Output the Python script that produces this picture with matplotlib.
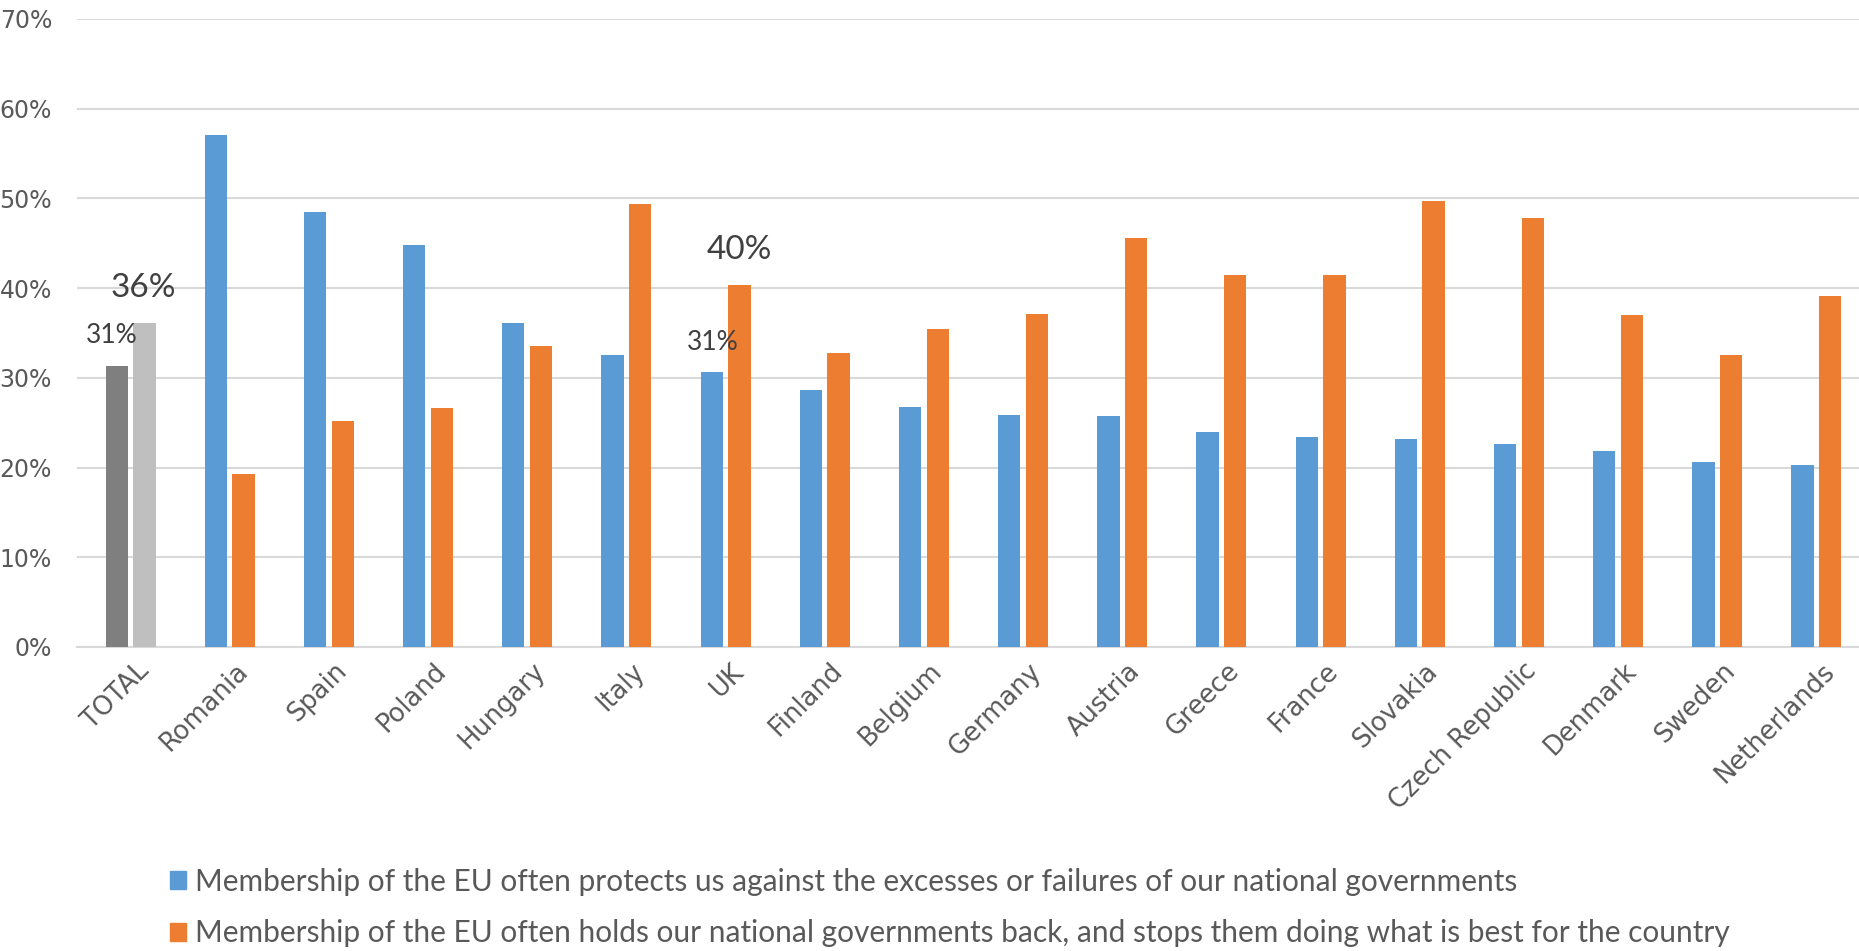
import matplotlib
matplotlib.use('Agg')
import matplotlib.pyplot as plt
import numpy as np
from matplotlib.patches import Patch

plt.rcParams['font.family'] = ['Lato', 'DejaVu Sans']

# 数据
countries = ['TOTAL', 'Romania', 'Spain', 'Poland', 'Hungary', 'Italy', 'UK', 'Finland',
             'Belgium', 'Germany', 'Austria', 'Greece', 'France', 'Slovakia',
             'Czech Republic', 'Denmark', 'Sweden', 'Netherlands']
protects = [31.3, 57.1, 48.5, 44.8, 36.1, 32.5, 30.6, 28.7, 26.7, 25.9, 25.8,
            24.0, 23.4, 23.2, 22.6, 21.8, 20.6, 20.3]
holds_back = [36.1, 19.3, 25.2, 26.6, 33.6, 49.4, 40.4, 32.8, 35.5, 37.1, 45.6,
              41.5, 41.5, 49.7, 47.8, 37.0, 32.5, 39.1]
legend_labels = ['Membership of the EU often protects us against the excesses or failures of our national governments',
                 'Membership of the EU often holds our national governments back, and stops them doing what is best for the country']

blue = '#5B9BD5'
orange = '#ED7D31'
c1 = [blue] * len(countries)
c2 = [orange] * len(countries)
c1[0] = '#7F7F7F'  # TOTAL 用灰色
c2[0] = '#BFBFBF'

W, H = 1859, 951
fig = plt.figure(figsize=(W / 100, H / 100), dpi=100)
ax = fig.add_axes([77 / W, 1 - 647 / H, (1866 - 77) / W, (647 - 19) / H])

x = np.arange(len(countries))
bw = 0.225
off = 0.14
ax.bar(x - off, np.array(protects) / 100, width=bw, color=c1, zorder=3)
ax.bar(x + off, np.array(holds_back) / 100, width=bw, color=c2, zorder=3)

ax.set_xlim(-0.54, 17.5)
ax.set_ylim(0, 0.7)
ax.set_yticks(np.arange(0, 0.71, 0.1))
ax.set_yticklabels([f'{int(round(v * 100))}%' for v in np.arange(0, 0.71, 0.1)],
                   fontsize=17, color='#595959', family='DejaVu Sans')
ax.yaxis.grid(True, color='#D9D9D9', linewidth=1.5, zorder=0)
ax.set_axisbelow(True)
for s in ['top', 'right', 'left']:
    ax.spines[s].set_visible(False)
ax.spines['bottom'].set_color('#D9D9D9')
ax.spines['bottom'].set_linewidth(1.5)
ax.tick_params(axis='both', length=0)
ax.tick_params(axis='y', pad=18)

ax.set_xticks(x + 0.05)
ax.set_xticklabels(countries, rotation=45, ha='right', rotation_mode='anchor',
                   fontsize=18.5, color='#595959', family='DejaVu Sans')
ax.tick_params(axis='x', pad=8)

# 数值标签
ax.text(-0.19, 0.347, '31%', ha='center', va='center', fontsize=19, color='#404040')
ax.text(0.13, 0.400, '36%', ha='center', va='center', fontsize=24, color='#404040')
ax.text(6 - 0.13, 0.339, '31%', ha='center', va='center', fontsize=19, color='#404040')
ax.text(6 + 0.14, 0.443, '40%', ha='center', va='center', fontsize=24, color='#404040')

handles = [Patch(color=blue), Patch(color=orange)]
fig.legend(handles, legend_labels, loc='upper left', bbox_to_anchor=(155 / W, 1 - 853 / H),
           frameon=False, fontsize=21.5, handlelength=0.55, handleheight=0.55,
           handletextpad=0.3, labelspacing=0.78, labelcolor='#595959', borderpad=0)

fig.savefig('out.png', dpi=100)
